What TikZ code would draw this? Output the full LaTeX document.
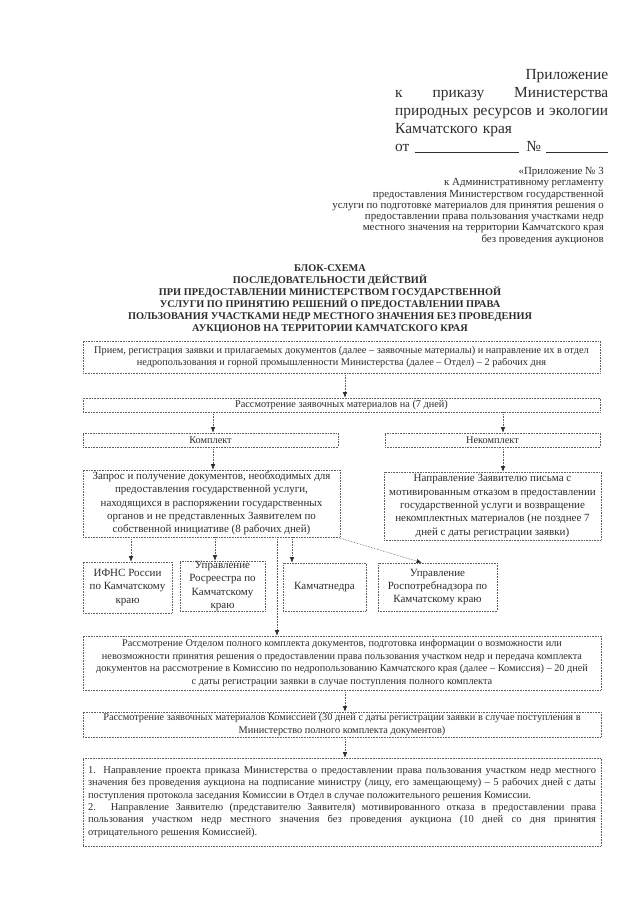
\documentclass[tikz,border=0pt]{standalone}
\usepackage{fontspec}
\setmainfont{Liberation Serif}
\usetikzlibrary{arrows.meta}
\definecolor{ink}{RGB}{45,45,45}
\definecolor{frame}{RGB}{95,95,95}
\begin{document}
\begin{tikzpicture}[x=1pt,y=-1pt,
  box/.style={draw=frame, densely dotted, line width=0.6pt, inner sep=0pt, text=ink, align=center, font=\fontsize{10.3}{12.8}\selectfont},
  sbox/.style={box, font=\fontsize{11}{13.3}\selectfont},
  arr/.style={draw=frame, densely dotted, line width=0.6pt, -{Latex[length=5.5pt,width=4.5pt,color=ink]}},
  plain/.style={inner sep=0pt, text=ink}
]
\fill[white] (0,0) rectangle (640,905);
\useasboundingbox (0,0) rectangle (640,905);

% header
\node[plain, anchor=north west, text width=213pt, align=left, font=\fontsize{15.4}{18}\selectfont] (hdr) at (395,69)
 {\null\hfill Приложение\\
  к\hfill приказу\hfill Министерства\\
  природных\hfill ресурсов\hfill и\hfill экологии\\
  Камчатского края\\
  от \rule[-1pt]{104pt}{0.5pt}\hfill№ \rule[-1pt]{62pt}{0.5pt}};

\node[plain, anchor=north east, align=right, font=\fontsize{10.9}{11.3}\selectfont] (app) at (604,167)
 {«Приложение № 3\\
  к Административному регламенту\\
  предоставления Министерством государственной\\
  услуги по подготовке материалов для принятия решения о\\
  предоставлении права пользования участками недр\\
  местного значения на территории Камчатского края\\
  без проведения аукционов};

\node[plain, anchor=north, align=center, font=\bfseries\fontsize{10.3}{12}\selectfont] (title) at (330,264)
 {БЛОК-СХЕМА\\
  ПОСЛЕДОВАТЕЛЬНОСТИ ДЕЙСТВИЙ\\
  ПРИ ПРЕДОСТАВЛЕНИИ МИНИСТЕРСТВОМ ГОСУДАРСТВЕННОЙ\\
  УСЛУГИ ПО ПРИНЯТИЮ РЕШЕНИЙ О ПРЕДОСТАВЛЕНИИ ПРАВА\\
  ПОЛЬЗОВАНИЯ УЧАСТКАМИ НЕДР МЕСТНОГО ЗНАЧЕНИЯ БЕЗ ПРОВЕДЕНИЯ\\
  АУКЦИОНОВ НА ТЕРРИТОРИИ КАМЧАТСКОГО КРАЯ};

% boxes
\node[box, minimum width=517, minimum height=32] (b1) at (341.5,357)
 {Прием, регистрация заявки и прилагаемых документов (далее – заявочные материалы) и направление их в отдел\\
  недропользования и горной промышленности Министерства (далее – Отдел) – 2 рабочих дня};

\node[box, minimum width=517, minimum height=14] (b2) at (341.5,405)
 {Рассмотрение заявочных материалов на (7 дней)};

\node[box, minimum width=255, minimum height=14] (b3) at (210.5,440) {Комплект};
\node[box, minimum width=215, minimum height=14] (b4) at (492.5,440) {Некомплект};

\node[sbox, minimum width=257, minimum height=67] (b5) at (211.5,503.5)
 {Запрос и получение документов, необходимых для\\
  предоставления государственной услуги,\\
  находящихся в распоряжении государственных\\
  органов и не представленных Заявителем по\\
  собственной инициативе (8 рабочих дней)};

\node[sbox, minimum width=217, minimum height=68] (b6) at (492.5,506)
 {Направление Заявителю письма с\\
  мотивированным отказом в предоставлении\\
  государственной услуги и возвращение\\
  некомплектных материалов (не позднее 7\\
  дней с даты регистрации заявки)};

\node[sbox, minimum width=89, minimum height=51] (a1) at (127.5,587.5)
 {ИФНС России\\ по Камчатскому\\ краю};
\node[sbox, minimum width=85, minimum height=50] (a2) at (222.5,586)
 {Управление\\ Росреестра по\\ Камчатскому\\ краю};
\node[sbox, minimum width=83, minimum height=48] (a3) at (324.5,587) {Камчатнедра};
\node[sbox, minimum width=119, minimum height=48] (a4) at (437.5,587)
 {Управление\\ Роспотребнадзора по\\ Камчатскому краю};

\node[box, minimum width=518, minimum height=54] (b7) at (342,663)
 {Рассмотрение Отделом полного комплекта документов, подготовка информации о возможности или\\
  невозможности принятия решения о предоставлении права пользования участком недр и передача комплекта\\
  документов на рассмотрение в Комиссию по недропользованию Камчатского края (далее – Комиссия) – 20 дней\\
  с даты регистрации заявки в случае поступления полного комплекта};

\node[box, minimum width=518, minimum height=25] (b8) at (342,724.5)
 {Рассмотрение заявочных материалов Комиссией (30 дней с даты регистрации заявки в случае поступления в\\
  Министерство полного комплекта документов)};

\node[box, minimum width=518, minimum height=88, text width=508pt, align=justify, font=\fontsize{10.5}{12.3}\selectfont] (b9) at (342,802)
 {1. Направление проекта приказа Министерства о предоставлении права пользования участком недр местного\linebreak
  значения без проведения аукциона на подписание министру (лицу, его замещающему) – 5 рабочих дней с даты\linebreak
  поступления протокола заседания Комиссии в Отдел в случае положительного решения Комиссии.\\
  2. Направление Заявителю (представителю Заявителя) мотивированного отказа в предоставлении права\linebreak
  пользования участком недр местного значения без проведения аукциона (10 дней со дня принятия\linebreak
  отрицательного решения Комиссией).};

% arrow columns
\coordinate (x345) at (345,0);
\coordinate (x213) at (213,0);
\coordinate (x503) at (503,0);
\coordinate (x131) at (131,0);
\coordinate (x215) at (215,0);
\coordinate (x292) at (292,0);
\coordinate (x277) at (277,0);
\coordinate (x422) at (422,0);

\draw[arr] (b1.south -| x345) -- (b2.north -| x345);
\draw[arr] (b2.south -| x213) -- (b3.north -| x213);
\draw[arr] (b2.south -| x503) -- (b4.north -| x503);
\draw[arr] (b3.south -| x213) -- (b5.north -| x213);
\draw[arr] (b4.south -| x503) -- (b6.north -| x503);
\draw[arr] (b5.south -| x131) -- (a1.north -| x131);
\draw[arr] (b5.south -| x215) -- (a2.north -| x215);
\draw[arr] (b5.south -| x292) -- (a3.north -| x292);
\draw[arr] (b5.south -| x277) -- (b7.north -| x277);
\draw[arr] ([xshift=-3pt]b5.south east) -- (a4.north -| x422);
\draw[arr] (b7.south -| x345) -- (b8.north -| x345);
\draw[arr] (b8.south -| x345) -- (b9.north -| x345);
\end{tikzpicture}
\end{document}
